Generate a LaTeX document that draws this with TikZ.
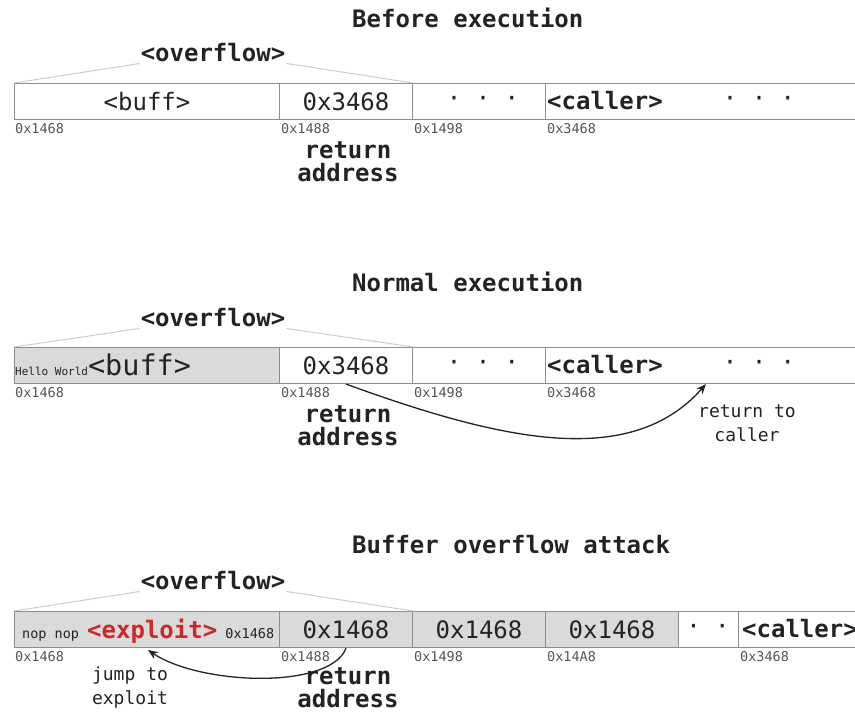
\documentclass[tikz,border=0pt]{standalone}
\usepackage{fontspec}
\setmainfont{DejaVu Sans Mono}
\usetikzlibrary{arrows.meta}
\definecolor{boxgray}{RGB}{140,140,140}
\definecolor{cellfill}{RGB}{218,218,218}
\definecolor{ovgray}{RGB}{205,205,205}
\definecolor{txt}{RGB}{35,35,35}
\definecolor{addrc}{RGB}{85,85,85}
\definecolor{exred}{RGB}{205,40,40}
\newcommand\szbig{\fontsize{24}{28}\selectfont}
\newcommand\szaddr{\fontsize{13.5}{16}\selectfont}
\newcommand\szmid{\fontsize{18}{24}\selectfont}
\newcommand\szhuge{\fontsize{28.5}{32}\selectfont}
\newcommand\szsmall{\fontsize{11}{13}\selectfont}
\newcommand\szret{\fontsize{24}{23}\selectfont}
\begin{document}
\begin{tikzpicture}[x=1pt,y=-1pt,
 cell/.style={draw=boxgray, line width=1.1pt, inner sep=0pt, minimum height=36pt, anchor=north west, text=txt, font=\szbig},
 filled/.style={fill=cellfill},
 addr/.style={anchor=west, inner sep=0pt, font=\szaddr, text=addrc},
 title/.style={anchor=west, inner sep=0pt, font=\szbig\bfseries, text=txt},
 ovtext/.style={inner sep=1pt, font=\szbig\bfseries, text=txt},
 ovline/.style={draw=ovgray, line width=1pt},
 retaddr/.style={align=center, font=\szret\bfseries, text=txt, inner sep=0pt},
 arr/.style={-{Stealth[length=10pt,width=8pt]}, line width=1.3pt, draw=txt},
 note/.style={align=center, font=\szmid, text=txt, inner sep=0pt},
 dots/.style={font=\szbig, text=txt, inner sep=0pt},
 lefttext/.style={anchor=west, font=\szbig\bfseries, text=txt, inner sep=0pt}]
\useasboundingbox (0,0) rectangle (855,713);
\fill[white] (0,0) rectangle (855,713);

% ---------- Row 1: Before execution ----------
\node[title] (t1) at (352,18) {Before execution};
\node[cell, minimum width=265pt] (buff1) at (14,83) {<buff>};
\node[cell, minimum width=133pt] (ra1) at (279,83) {0x3468};
\node[cell, minimum width=133pt] (gap1) at (412,83) {};
\node[cell, minimum width=330pt] (call1) at (545,83) {};
\node[dots] (d1a) at (483,101) {· · ·};
\node[lefttext] (c1) at (547,101) {<caller>};
\node[dots] (d1b) at (759,101) {· · ·};
\node[ovtext] (ov1) at (213,53) {<overflow>};
\draw[ovline] (buff1.north west) -- (ov1.south west);
\draw[ovline] (ov1.south east) -- (ra1.north east);
\node[addr] (a1a) at (15,129) {0x1468};
\node[addr] (a1b) at (281,129) {0x1488};
\node[addr] (a1c) at (414,129) {0x1498};
\node[addr] (a1d) at (547,129) {0x3468};
\node[retaddr] (r1) at (348,161.5) {return\\address};

% ---------- Row 2: Normal execution ----------
\node[title] (t2) at (352,282) {Normal execution};
\node[cell, filled, minimum width=265pt] (buff2) at (14,347) {};
\node[anchor=base west, inner sep=0pt, text=txt] (hw) at (15,375) {{\szsmall Hello World}{\szhuge <buff>}};
\node[cell, minimum width=133pt] (ra2) at (279,347) {0x3468};
\node[cell, minimum width=133pt] (gap2) at (412,347) {};
\node[cell, minimum width=330pt] (call2) at (545,347) {};
\node[dots] (d2a) at (483,365) {· · ·};
\node[lefttext] (c2) at (547,365) {<caller>};
\node[dots] (d2b) at (759,365) {· · ·};
\node[ovtext] (ov2) at (213,318) {<overflow>};
\draw[ovline] (buff2.north west) -- (ov2.south west);
\draw[ovline] (ov2.south east) -- (ra2.north east);
\node[addr] (a2a) at (15,393) {0x1468};
\node[addr] (a2b) at (281,393) {0x1488};
\node[addr] (a2c) at (414,393) {0x1498};
\node[addr] (a2d) at (547,393) {0x3468};
\node[retaddr] (r2) at (348,426) {return\\address};
\coordinate (rc) at (706,384);
\draw[arr] (ra2.south) .. controls (500,440) and (630,470) .. (rc);
\node[note] (n2) at (747,423.5) {return to\\caller};

% ---------- Row 3: Buffer overflow attack ----------
\node[title] (t3) at (352,545) {Buffer overflow attack};
\node[cell, filled, minimum width=265pt] (buff3) at (14,611) {};
\node[anchor=base west, inner sep=0pt, text=txt] (ex) at (22,638)
  {{\szaddr nop nop }{\szbig\bfseries\color{exred}<exploit>}{\szaddr{} 0x1468}};
\node[cell, filled, minimum width=133pt] (ra3) at (279,611) {0x1468};
\node[cell, filled, minimum width=133pt] (c3b) at (412,611) {0x1468};
\node[cell, filled, minimum width=133pt] (c3c) at (545,611) {0x1468};
\node[cell, minimum width=60pt] (gap3) at (678,611) {};
\node[dots] (d3) at (708,629) {· ·};
\node[cell, minimum width=140pt] (call3) at (738,611) {};
\node[lefttext] (c3) at (742,629) {<caller>};
\node[ovtext] (ov3) at (213,581) {<overflow>};
\draw[ovline] (buff3.north west) -- (ov3.south west);
\draw[ovline] (ov3.south east) -- (ra3.north east);
\node[addr] (a3a) at (15,657) {0x1468};
\node[addr] (a3b) at (281,657) {0x1488};
\node[addr] (a3c) at (414,657) {0x1498};
\node[addr] (a3d) at (547,657) {0x14A8};
\node[addr] (a3e) at (740,657) {0x3468};
\node[retaddr] (r3) at (348,688) {return\\address};
\coordinate (je) at (148,650);
\draw[arr] (ra3.south) .. controls (330,690) and (200,685) .. (je);
\node[note] (n3) at (130,688) {jump to\\exploit};
\end{tikzpicture}
\end{document}
